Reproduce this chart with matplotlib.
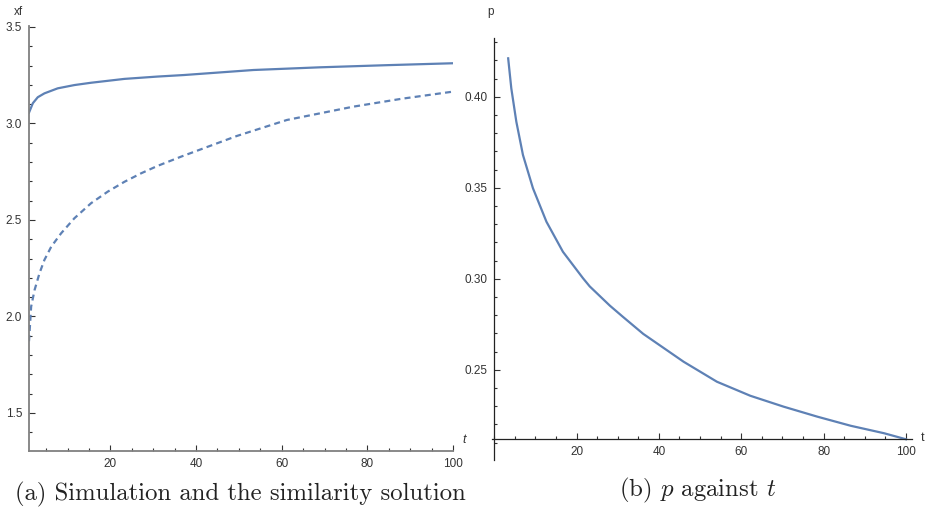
import matplotlib
matplotlib.use("Agg")
import matplotlib.pyplot as plt
from matplotlib.ticker import MultipleLocator, FormatStrFormatter

# front position xf(t): simulation (solid) and similarity solution (dashed)
t_sim = [1.0, 1.9, 3.05, 4.6, 7.7, 11.6, 15.5, 23.3, 31.0, 37.2, 53.4, 69.0, 84.5, 100.0]
xf_sim = [3.056, 3.105, 3.136, 3.156, 3.182, 3.199, 3.211, 3.231, 3.243, 3.251,
          3.277, 3.291, 3.302, 3.312]

t_sim2 = [1.0, 1.5, 2.3, 3.45, 4.6, 6.2, 8.5, 11.6, 15.5, 19.4, 23.3, 27.2, 31.0,
          36.5, 49.5, 61.2, 76.7, 88.0, 100.0]
xf_sim2 = [1.872, 2.051, 2.137, 2.224, 2.293, 2.362, 2.431, 2.509, 2.587, 2.647,
           2.698, 2.742, 2.780, 2.828, 2.935, 3.018, 3.087, 3.128, 3.165]

# p(t)
t_p = [3.4, 4.16, 5.38, 6.99, 9.42, 12.7, 16.7, 21.6, 23.2, 28.1, 31.3, 36.2, 46.0,
       54.1, 62.2, 70.3, 78.5, 86.6, 94.7, 100.0]
p_vals = [0.4211, 0.4046, 0.3863, 0.3680, 0.3497, 0.3313, 0.3148, 0.3002, 0.2958,
          0.2852, 0.2790, 0.2697, 0.2544, 0.2434, 0.2357, 0.2297, 0.2242, 0.2192,
          0.2151, 0.2118]

W, H = 928, 509
LINE = "#5E81B5"
TICK_TXT = "#333333"

plt.rcParams["font.family"] = ["Liberation Sans", "DejaVu Sans"]
plt.rcParams["mathtext.fontset"] = "cm"

fig = plt.figure(figsize=(W / 100, H / 100), dpi=100)


def px_box(x0, y0, x1, y1):
    return [x0 / W, 1 - y1 / H, (x1 - x0) / W, (y1 - y0) / H]


def style_axes(ax, spine_color, spine_lw):
    for side in ("top", "right"):
        ax.spines[side].set_visible(False)
    for side in ("left", "bottom"):
        ax.spines[side].set_color(spine_color)
        ax.spines[side].set_linewidth(spine_lw)
    ax.tick_params(which="both", direction="in", colors="#333333",
                   labelcolor=TICK_TXT, labelsize=8.5, width=0.8)
    ax.tick_params(which="major", length=4.5, pad=5)
    ax.tick_params(which="minor", length=2.5)
    ax.xaxis.set_major_locator(MultipleLocator(20))
    ax.xaxis.set_minor_locator(MultipleLocator(5))
    ax.patch.set_visible(False)


# (a) left panel
ax1 = fig.add_axes(px_box(29, 26, 453, 451))
ax1.plot(t_sim, xf_sim, color=LINE, lw=1.6)
ax1.plot(t_sim2, xf_sim2, color=LINE, lw=1.6, ls=(0, (2.7, 1.9)))
ax1.set_xlim(1, 100)
ax1.set_ylim(1.303, 3.505)
style_axes(ax1, "#808080", 1.3)
ax1.set_xticks([20, 40, 60, 80, 100])
ax1.yaxis.set_major_locator(MultipleLocator(0.5))
ax1.yaxis.set_minor_locator(MultipleLocator(0.1))
ax1.yaxis.set_major_formatter(FormatStrFormatter("%.1f"))

fig.text(14 / W, 1 - 12 / H, "xf", fontsize=8.5, color=TICK_TXT, va="center", ha="left")
fig.text(462 / W, 1 - 440 / H, "t", fontsize=9, color=TICK_TXT, style="italic",
         va="center", ha="left")

# (b) right panel
ax2 = fig.add_axes(px_box(491.7, 38.3, 911.7, 460))
ax2.plot(t_p, p_vals, color=LINE, lw=1.6)
ax2.set_xlim(-0.6, 101.4)
ax2.set_ylim(0.2004, 0.4321)
style_axes(ax2, "#222222", 0.9)
ax2.spines["left"].set_position(("data", 0))
ax2.spines["bottom"].set_position(("data", p_vals[-1]))
ax2.set_xticks([20, 40, 60, 80, 100])
ax2.yaxis.set_minor_locator(MultipleLocator(0.01))
ax2.yaxis.set_major_formatter(FormatStrFormatter("%.2f"))
ax2.set_yticks([0.25, 0.30, 0.35, 0.40])

fig.text(491 / W, 1 - 12 / H, "p", fontsize=8.5, color=TICK_TXT, va="center", ha="center")
fig.text(921 / W, 1 - 438 / H, "t", fontsize=9, color=TICK_TXT, va="center", ha="left")

# captions
fig.text(240 / W, 1 - 494 / H, "(a) Simulation and the similarity solution",
         family="cmr10", fontsize=17.8, ha="center", va="center", color="#222222")
fig.text(698 / W, 1 - 490 / H, "(b) $p$ against $t$",
         family="cmr10", fontsize=17.8, ha="center", va="center", color="#222222")

fig.savefig("out.png", dpi=100)
